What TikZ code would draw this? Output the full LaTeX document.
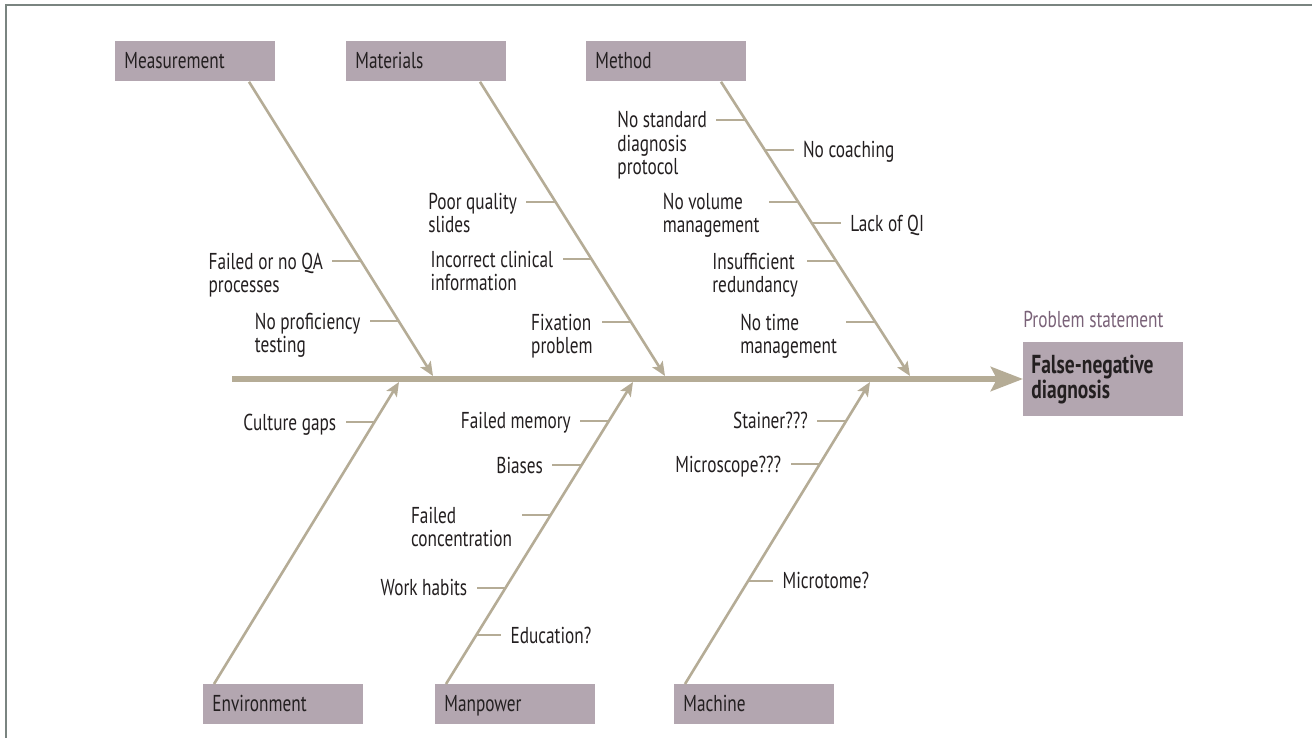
\documentclass[tikz,border=0pt]{standalone}
\usepackage{fontspec}
\setmainfont[FakeStretch=0.75]{PT Sans}
\usetikzlibrary{arrows.meta, calc, positioning}
\definecolor{boxfill}{RGB}{179,166,176}
\definecolor{bonecol}{RGB}{181,172,150}
\definecolor{txtcol}{RGB}{35,31,32}
\definecolor{titlecol}{RGB}{122,98,120}
\definecolor{framecol}{RGB}{122,132,128}
\newcommand\causefont{\fontsize{11.5pt}{11.6pt}\selectfont}
\tikzset{
  catbox/.style = {shape=rectangle, fill=boxfill, anchor=north west,
                   minimum width=80pt, minimum height=20pt,
                   inner xsep=4.5pt, text width=71pt, align=left,
                   text height=8.5pt, text depth=1.5pt,
                   text=txtcol, font=\causefont},
  probbox/.style = {shape=rectangle, fill=boxfill, anchor=north west,
                    minimum width=80pt, minimum height=37pt,
                    inner xsep=4pt, text width=72pt, align=left,
                    text=txtcol,
                    font=\bfseries\fontsize{13pt}{12.8pt}\selectfont},
  cause/.style = {text=txtcol, align=left, inner sep=0pt, font=\causefont},
  lcause/.style = {cause, anchor=north east, xshift=-4.5pt, yshift=4.3pt},
  rcause/.style = {cause, anchor=north west, xshift=4.5pt, yshift=4.3pt},
  bone/.style = {draw=bonecol, line width=1.3pt,
                 -{Stealth[length=7pt, width=6pt, inset=1.5pt]}},
  twig/.style = {draw=bonecol, line width=1pt},
  spine/.style = {draw=bonecol, line width=3pt,
                  -{Stealth[length=16pt, width=12pt, inset=3pt]}}
}
\begin{document}
\begin{tikzpicture}[x=0.5pt, y=-0.5pt]
  \useasboundingbox (0,0) rectangle (1312,738);
  \fill[white] (0,0) rectangle (1312,738);
  \draw[framecol, line width=1pt] (5.5,738) -- (5.5,5.5) -- (1312,5.5);

  % category boxes
  \node[catbox] (meas) at (115,41) {Measurement};
  \node[catbox] (mat)  at (346,41) {Materials};
  \node[catbox] (meth) at (586,41) {Method};
  \node[catbox] (env)  at (203,684) {Environment};
  \node[catbox] (man)  at (435,684) {Manpower};
  \node[catbox] (mach) at (674,684) {Machine};

  % problem statement
  \node[probbox] (prob) at (1023,342) {False-negative\\diagnosis};
  \node[anchor=base west, inner sep=0pt, text=titlecol,
        font=\fontsize{11.5pt}{12pt}\selectfont] (ptitle)
        at ($(prob.north west)+(0,-15)$) {Problem statement};

  % spine
  \coordinate (tail) at (232,379);
  \draw[spine] (tail) -- (tail -| prob.west);

  % bones
  \coordinate (smeas) at ($(meas.south west)+(134,0)$);
  \coordinate (smat)  at ($(mat.south west)+(134,0)$);
  \coordinate (smeth) at ($(meth.south west)+(135,0)$);
  \coordinate (senv)  at ($(env.north west)+(11,0)$);
  \coordinate (sman)  at ($(man.north west)+(11,0)$);
  \coordinate (smach) at ($(mach.north west)+(11,0)$);
  \coordinate (tmeas) at (433,376);
  \coordinate (tmat)  at (665,376);
  \coordinate (tmeth) at (910,376);
  \coordinate (tenv)  at (399,382);
  \coordinate (tman)  at (633,382);
  \coordinate (tmach) at (870,382);
  \draw[bone] (smeas) -- (tmeas);
  \draw[bone] (smat) -- (tmat);
  \draw[bone] (smeth) -- (tmeth);
  \draw[bone] (senv) -- (tenv);
  \draw[bone] (sman) -- (tman);
  \draw[bone] (smach) -- (tmach);

  % Measurement
  \coordinate (m1) at ($(smeas)!0.610!(tmeas)$);
  \coordinate (m2) at ($(smeas)!0.814!(tmeas)$);
  \draw[twig] (m1) -- ++(-29,0) coordinate (m1e);
  \draw[twig] (m2) -- ++(-29,0) coordinate (m2e);
  \node[lcause] (m1t) at (m1e) {Failed or no QA\\processes};
  \node[lcause] (m2t) at (m2e) {No proficiency\\testing};

  % Materials
  \coordinate (a1) at ($(smat)!0.407!(tmat)$);
  \coordinate (a2) at ($(smat)!0.603!(tmat)$);
  \coordinate (a3) at ($(smat)!0.817!(tmat)$);
  \draw[twig] (a1) -- ++(-29,0) coordinate (a1e);
  \draw[twig] (a2) -- ++(-29,0) coordinate (a2e);
  \draw[twig] (a3) -- ++(-29,0) coordinate (a3e);
  \node[lcause] (a1t) at (a1e) {Poor quality\\slides};
  \node[lcause] (a2t) at (a2e) {Incorrect clinical\\information};
  \node[lcause] (a3t) at (a3e) {Fixation\\problem};

  % Method
  \coordinate (h1) at ($(smeth)!0.129!(tmeth)$);
  \coordinate (h2) at ($(smeth)!0.231!(tmeth)$);
  \coordinate (h3) at ($(smeth)!0.407!(tmeth)$);
  \coordinate (h4) at ($(smeth)!0.481!(tmeth)$);
  \coordinate (h5) at ($(smeth)!0.610!(tmeth)$);
  \coordinate (h6) at ($(smeth)!0.817!(tmeth)$);
  \draw[twig] (h1) -- ++(-29,0) coordinate (h1e);
  \draw[twig] (h2) -- ++(29,0) coordinate (h2e);
  \draw[twig] (h3) -- ++(-29,0) coordinate (h3e);
  \draw[twig] (h4) -- ++(29,0) coordinate (h4e);
  \draw[twig] (h5) -- ++(-29,0) coordinate (h5e);
  \draw[twig] (h6) -- ++(-29,0) coordinate (h6e);
  \node[lcause] (h1t) at (h1e) {No standard\\diagnosis\\protocol};
  \node[rcause] (h2t) at (h2e) {No coaching};
  \node[lcause] (h3t) at (h3e) {No volume\\management};
  \node[rcause] (h4t) at (h4e) {Lack of QI};
  \node[lcause] (h5t) at (h5e) {Insufficient\\redundancy};
  \node[lcause] (h6t) at (h6e) {No time\\management};

  % Environment
  \coordinate (e1) at ($(senv)!0.868!(tenv)$);
  \draw[twig] (e1) -- ++(-29,0) coordinate (e1e);
  \node[lcause] (e1t) at (e1e) {Culture gaps};

  % Manpower
  \coordinate (p1) at ($(sman)!0.872!(tman)$);
  \coordinate (p2) at ($(sman)!0.724!(tman)$);
  \coordinate (p3) at ($(sman)!0.559!(tman)$);
  \coordinate (p4) at ($(sman)!0.319!(tman)$);
  \coordinate (p5) at ($(sman)!0.161!(tman)$);
  \draw[twig] (p1) -- ++(-29,0) coordinate (p1e);
  \draw[twig] (p2) -- ++(-29,0) coordinate (p2e);
  \draw[twig] (p3) -- ++(-29,0) coordinate (p3e);
  \draw[twig] (p4) -- ++(-29,0) coordinate (p4e);
  \draw[twig] (p5) -- ++(25,0) coordinate (p5e);
  \node[lcause] (p1t) at (p1e) {Failed memory};
  \node[lcause] (p2t) at (p2e) {Biases};
  \node[lcause] (p3t) at (p3e) {Failed\\concentration};
  \node[lcause] (p4t) at (p4e) {Work habits};
  \node[rcause] (p5t) at (p5e) {Education?};

  % Machine
  \coordinate (c1) at ($(smach)!0.872!(tmach)$);
  \coordinate (c2) at ($(smach)!0.727!(tmach)$);
  \coordinate (c3) at ($(smach)!0.342!(tmach)$);
  \draw[twig] (c1) -- ++(-29,0) coordinate (c1e);
  \draw[twig] (c2) -- ++(-29,0) coordinate (c2e);
  \draw[twig] (c3) -- ++(25,0) coordinate (c3e);
  \node[lcause] (c1t) at (c1e) {Stainer???};
  \node[lcause] (c2t) at (c2e) {Microscope???};
  \node[rcause] (c3t) at (c3e) {Microtome?};
\end{tikzpicture}
\end{document}
